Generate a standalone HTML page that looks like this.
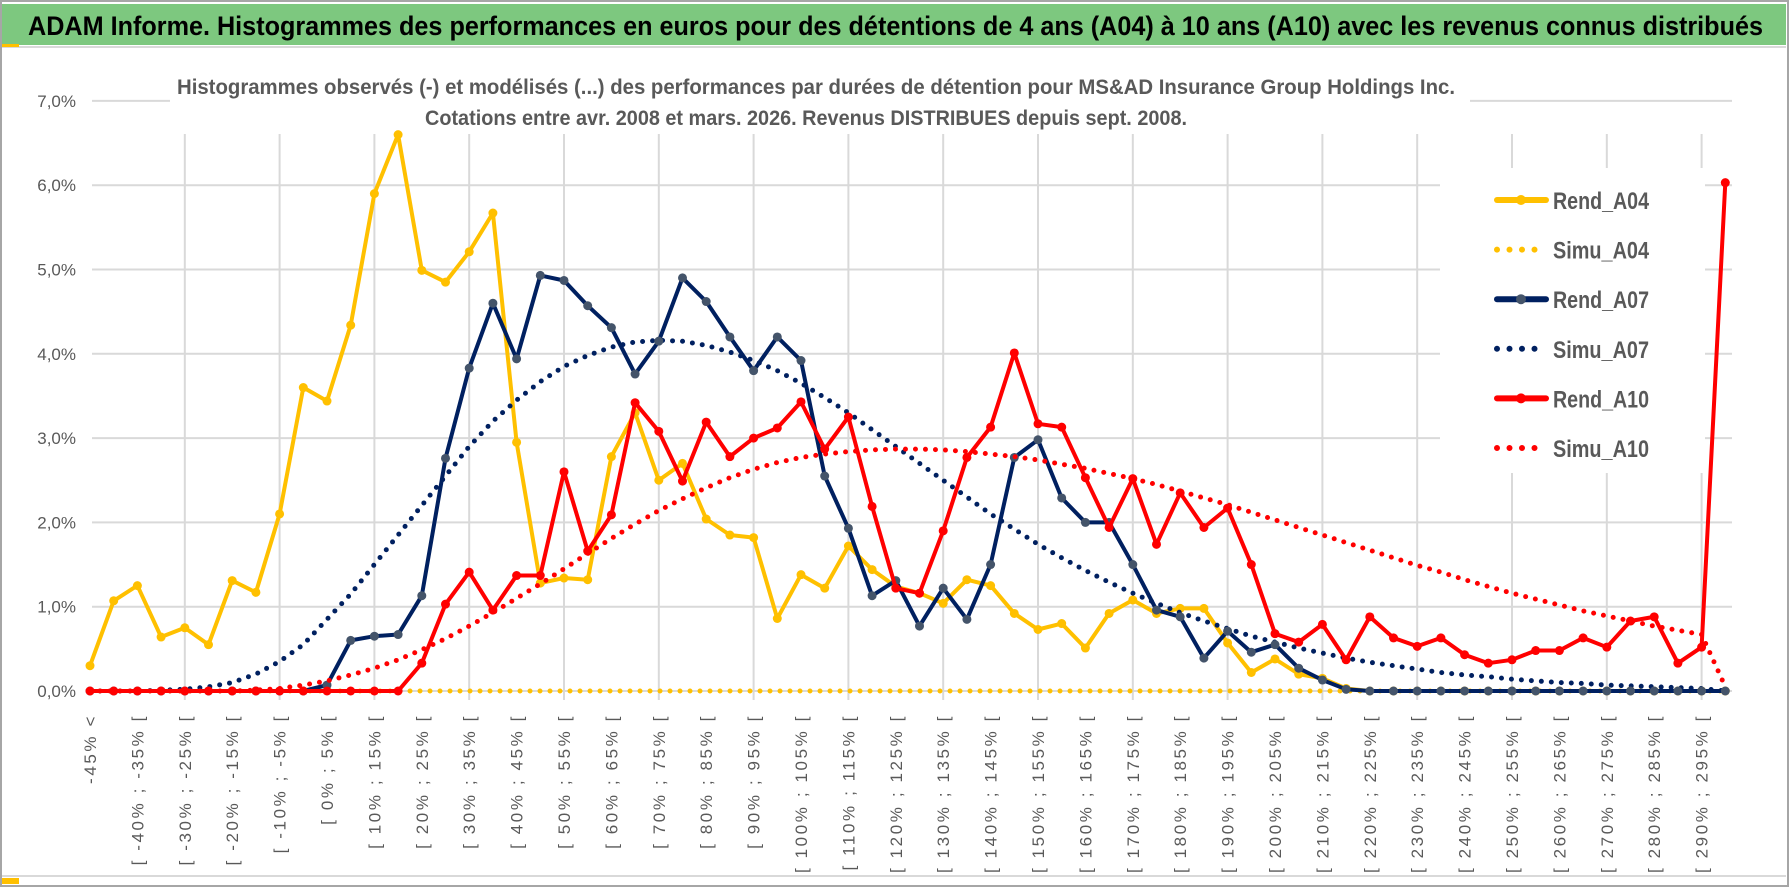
<!DOCTYPE html>
<html><head><meta charset="utf-8">
<style>
html,body{margin:0;padding:0;background:#fff;}
svg{display:block;}
text{font-family:"Liberation Sans Narrow","Liberation Sans",sans-serif;}
</style></head>
<body>
<svg id="chart" width="1790" height="888" viewBox="0 0 1790 888" xmlns="http://www.w3.org/2000/svg">
  <rect x="0" y="0" width="1790" height="888" fill="#fff"/>
  <rect x="1" y="1" width="1787" height="885" fill="none" stroke="#a6a6a6" stroke-width="2"/>
  <rect x="2" y="4" width="1784" height="41" fill="#7dc87f"/>
  <line x1="2" y1="47" x2="1786" y2="47" stroke="#d9d9d9" stroke-width="2"/>
  <rect x="2" y="44" width="17" height="3" fill="#ffc000"/>
  <rect x="2" y="878" width="17" height="6" fill="#ffc000"/>
  <line x1="2" y1="876" x2="1786" y2="876" stroke="#d9d9d9" stroke-width="2"/>
  <text x="28" y="35" font-size="27" font-weight="bold" fill="#000" textLength="1735" lengthAdjust="spacingAndGlyphs">ADAM Informe. Histogrammes des performances en euros pour des détentions de 4 ans (A04) à 10 ans (A10) avec les revenus connus distribués</text>
  <g id="grid"></g>
  <rect x="170" y="64" width="1300" height="68" fill="#fff"/>
  <text x="816" y="94" text-anchor="middle" font-size="21" font-weight="bold" fill="#595959" textLength="1278" lengthAdjust="spacingAndGlyphs">Histogrammes observés (-) et modélisés (...) des performances par durées de détention pour MS&amp;AD  Insurance Group Holdings Inc.</text>
  <text x="806" y="125" text-anchor="middle" font-size="21" font-weight="bold" fill="#595959" textLength="762" lengthAdjust="spacingAndGlyphs">Cotations entre avr. 2008 et mars. 2026. Revenus DISTRIBUES depuis sept. 2008.</text>
  <g id="yaxis"></g>
  <g id="xaxis"></g>
  <g id="series"></g>
  <g id="legend"></g>
</svg>
<script>
const categories = ["-45% <"];
for (let k = 0; k < 69; k++) { const a = -45 + 5 * k; categories.push("[ " + a + "% ; " + (a + 5) + "% ["); }
const yTicks = [0,1,2,3,4,5,6,7];
const yTickLabels = ["0,0%","1,0%","2,0%","3,0%","4,0%","5,0%","6,0%","7,0%"];
const rendA04 = [0.3,1.07,1.25,0.64,0.75,0.55,1.31,1.17,2.1,3.6,3.44,4.34,5.9,6.6,4.99,4.85,5.21,5.67,2.95,1.28,1.34,1.32,2.78,3.3,2.5,2.7,2.04,1.85,1.82,0.86,1.38,1.22,1.72,1.44,1.24,1.16,1.04,1.32,1.25,0.92,0.73,0.8,0.51,0.92,1.08,0.92,0.98,0.98,0.57,0.22,0.38,0.2,0.15,0.03,0,0,0,0,0,0,0,0,0,0,0,0,0,0,0,0];
const simuA04 = [0,0,0,0,0,0,0,0,0,0,0,0,0,0,0,0,0,0,0,0,0,0,0,0,0,0,0,0,0,0,0,0,0,0,0,0,0,0,0,0,0,0,0,0,0,0,0,0,0,0,0,0,0,0,0,0,0,0,0,0,0,0,0,0,0,0,0,0,0,0];
const rendA07 = [0,0,0,0,0,0,0,0,0,0,0.07,0.6,0.65,0.67,1.13,2.76,3.83,4.6,3.94,4.93,4.87,4.57,4.31,3.76,4.15,4.9,4.62,4.2,3.8,4.2,3.92,2.55,1.93,1.13,1.31,0.77,1.22,0.85,1.5,2.77,2.98,2.29,2.0,2.0,1.5,0.96,0.88,0.39,0.71,0.46,0.55,0.27,0.13,0.02,0,0,0,0,0,0,0,0,0,0,0,0,0,0,0,0];
const simuA07 = [0,0,0,0.01,0.02,0.05,0.1,0.2,0.35,0.55,0.85,1.15,1.5,1.85,2.2,2.55,2.9,3.2,3.45,3.67,3.85,3.98,4.08,4.14,4.16,4.15,4.1,4.02,3.92,3.8,3.65,3.48,3.3,3.1,2.9,2.7,2.5,2.3,2.1,1.92,1.74,1.58,1.43,1.29,1.16,1.04,0.93,0.83,0.74,0.65,0.58,0.51,0.45,0.39,0.34,0.3,0.26,0.22,0.19,0.17,0.14,0.12,0.1,0.09,0.07,0.06,0.05,0.04,0.03,0.0];
const rendA10 = [0,0,0,0,0,0,0,0,0,0,0,0,0,0,0.33,1.03,1.41,0.96,1.37,1.37,2.6,1.66,2.09,3.42,3.08,2.49,3.19,2.78,3.0,3.12,3.43,2.87,3.25,2.19,1.22,1.16,1.9,2.77,3.13,4.01,3.17,3.13,2.53,1.94,2.52,1.74,2.35,1.94,2.17,1.5,0.68,0.58,0.79,0.37,0.88,0.63,0.53,0.63,0.43,0.33,0.37,0.48,0.48,0.63,0.52,0.83,0.88,0.33,0.52,6.03];
const simuA10 = [0,0,0,0,0,0,0,0.01,0.03,0.07,0.12,0.19,0.27,0.37,0.49,0.62,0.77,0.93,1.1,1.27,1.45,1.63,1.81,1.98,2.14,2.28,2.41,2.53,2.63,2.71,2.77,2.81,2.84,2.86,2.87,2.87,2.86,2.84,2.81,2.78,2.74,2.69,2.64,2.58,2.52,2.45,2.37,2.29,2.21,2.12,2.03,1.94,1.85,1.76,1.67,1.58,1.49,1.41,1.32,1.24,1.16,1.09,1.02,0.95,0.89,0.83,0.77,0.72,0.67,0.05];
const seriesNames = ["Rend_A04","Simu_A04","Rend_A07","Simu_A07","Rend_A10","Simu_A10"];

const NS = "http://www.w3.org/2000/svg";
const X0 = 90, DX = 23.7, Y0 = 691, PY = 84.3;
function xPos(i){ return X0 + i * DX; }
function yPos(v){ return Y0 - v * PY; }
function mk(tag, attrs, parent){ const e = document.createElementNS(NS, tag); for (const k in attrs) e.setAttribute(k, attrs[k]); parent.appendChild(e); return e; }

const grid = document.getElementById('grid');
yTicks.forEach(function(t){
  const l = mk('line', {x1: 92, x2: 1732, y1: yPos(t), y2: yPos(t), stroke: '#d9d9d9', 'stroke-width': 2}, grid);
  
  
});
for (let i = 4; i < categories.length; i += 4) {
  const l = mk('line', {x1: xPos(i), x2: xPos(i), y1: 134, y2: 700, stroke: '#d9d9d9', 'stroke-width': 2}, grid);
  
  
}

const yaxis = document.getElementById('yaxis');
yTicks.forEach(function(t, k){
  const tx = mk('text', {x: 76, y: yPos(t) + 6, 'text-anchor': 'end', 'font-size': 17, fill: '#595959'}, yaxis);
  tx.textContent = yTickLabels[k];
  
  
});
const xaxis = document.getElementById('xaxis');
categories.forEach(function(c, i){
  if (i % 2 !== 0) return;
  const x = xPos(i) + 6, y = 714;
  const tx = mk('text', {x: x, y: y, 'text-anchor': 'end', 'font-size': 17, 'letter-spacing': 2.6, fill: '#595959', 'font-family': '"Liberation Sans", sans-serif', transform: 'rotate(-90 ' + x + ' ' + y + ')'}, xaxis);
  tx.textContent = c;
  
  
});

const leg = document.getElementById('legend');
mk('rect', {x: 1440, y: 168, width: 265, height: 305, fill: '#fff'}, leg);

const series = document.getElementById('series');
function drawDotted(vals, color, name){
  const d = vals.map(function(v, i){ return (i ? 'L' : 'M') + xPos(i).toFixed(1) + ',' + yPos(v).toFixed(1); }).join(' ');
  const p = mk('path', {d: d, fill: 'none', stroke: color, 'stroke-width': 5, 'stroke-linecap': 'round', 'stroke-dasharray': '0 10'}, series);
  
  
}
function drawSolid(vals, color, mcolor, name){
  const d = vals.map(function(v, i){ return (i ? 'L' : 'M') + xPos(i).toFixed(1) + ',' + yPos(v).toFixed(1); }).join(' ');
  const p = mk('path', {d: d, fill: 'none', stroke: color, 'stroke-width': 4, 'stroke-linejoin': 'round'}, series);
  
  
  vals.forEach(function(v, i){
    const c = mk('circle', {cx: xPos(i), cy: yPos(v), r: 4.5, fill: mcolor}, series);
    
    
  });
}
drawDotted(simuA04, '#ffc000', 'simu-a04');
drawSolid(rendA04, '#ffc000', '#ffc000', 'rend-a04');
drawDotted(simuA07, '#002060', 'simu-a07');
drawSolid(rendA07, '#002060', '#44546a', 'rend-a07');
drawDotted(simuA10, '#ff0000', 'simu-a10');
drawSolid(rendA10, '#ff0000', '#ff0000', 'rend-a10');

const legColors = ['#ffc000','#ffc000','#002060','#002060','#ff0000','#ff0000'];
const legMarker = ['#ffc000',null,'#44546a',null,'#ff0000',null];
seriesNames.forEach(function(n, k){
  const y = 200 + k * 49.6;
  const g = mk('g', {}, leg);
  
  
  if (k % 2 === 0) {
    mk('line', {x1: 1497, x2: 1546, y1: y, y2: y, stroke: legColors[k], 'stroke-width': 6, 'stroke-linecap': 'round'}, g);
    mk('circle', {cx: 1521, cy: y, r: 5, fill: legMarker[k]}, g);
  } else {
    mk('line', {x1: 1497, x2: 1546, y1: y, y2: y, stroke: legColors[k], 'stroke-width': 6, 'stroke-linecap': 'round', 'stroke-dasharray': '0 12.5'}, g);
  }
  const t = mk('text', {x: 1553, y: y + 9, 'font-size': 24, 'font-weight': 'bold', fill: '#595959', textLength: 96, lengthAdjust: 'spacingAndGlyphs'}, g);
  t.textContent = n;
});
</script>
</body></html>
